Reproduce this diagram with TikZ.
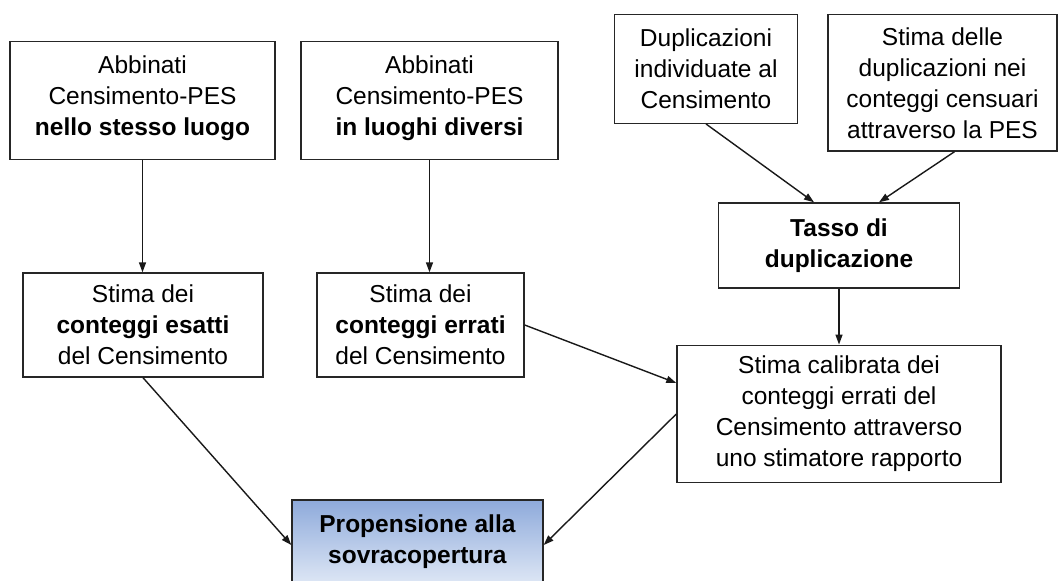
\documentclass[tikz,border=0pt]{standalone}
\usepackage{fontspec}
\setmainfont{Liberation Sans}
\usetikzlibrary{arrows.meta,calc}
\begin{document}
\begin{tikzpicture}[x=1pt,y=-1pt,
  box/.style={draw=black!85,line width=1.4pt,fill=white,rectangle,align=center,inner sep=0pt,
    font=\fontsize{24.5}{31}\selectfont},
  conn/.style={draw=black!90,line width=1.4pt,-{Triangle[length=10pt,width=7pt]}}]
\useasboundingbox (0,0) rectangle (1061,581);
\clip (0,0) rectangle (1061,581);
\fill[white] (0,0) rectangle (1061,581);
\node[box,minimum width=265pt,minimum height=118pt] (A) at (142.5,100.5)
  {Abbinati\\Censimento-PES\\\textbf{nello stesso luogo}\\[-22pt]\mbox{}};
\node[box,minimum width=257pt,minimum height=118pt] (B) at (429.5,100.5)
  {Abbinati\\Censimento-PES\\\textbf{in luoghi diversi}\\[-22pt]\mbox{}};
\node[box,minimum width=240pt,minimum height=104pt] (C) at (143,325)
  {Stima dei\\\textbf{conteggi esatti}\\del Censimento};
\node[box,minimum width=207pt,minimum height=104pt] (F) at (420.5,325)
  {Stima dei\\\textbf{conteggi errati}\\del Censimento};
\node[box,minimum width=183.5pt,minimum height=108.5pt] (D) at (706,69)
  {Duplicazioni\\individuate al\\Censimento};
\node[box,minimum width=229pt,minimum height=136.5pt] (E) at (942.5,82.75)
  {Stima delle\\duplicazioni nei\\conteggi censuari\\attraverso la PES};
\node[box,minimum width=241.5pt,minimum height=85pt] (T) at (839,245.5)
  {\textbf{Tasso di}\\\textbf{duplicazione}};
\node[box,minimum width=324pt,minimum height=137.5pt] (G) at (839,414)
  {Stima calibrata dei\\conteggi errati del\\Censimento attraverso\\uno stimatore rapporto};
\node[box,minimum width=251pt,minimum height=84pt,
  top color={rgb,255:red,142;green,170;blue,219},
  bottom color={rgb,255:red,222;green,231;blue,245}] (P) at (417.5,542)
  {\textbf{Propensione alla}\\\textbf{sovracopertura}};
\draw[conn] (A.south) -- (A.south |- C.north);
\draw[conn] (B.south) -- (B.south |- F.north);
\draw[conn] (D.south) -- ($(T.north)+(-25,0)$);
\draw[conn] ($(E.south)+(12,0)$) -- ($(T.north)+(40,0)$);
\draw[conn] (T.south) -- (G.north);
\draw[conn] (F.east) -- ($(G.west)+(0,-31)$);
\draw[conn] (G.west) -- ($(P.east)+(0,3)$);
\draw[conn] (C.south) -- ($(P.west)+(0,3)$);
\end{tikzpicture}
\end{document}
